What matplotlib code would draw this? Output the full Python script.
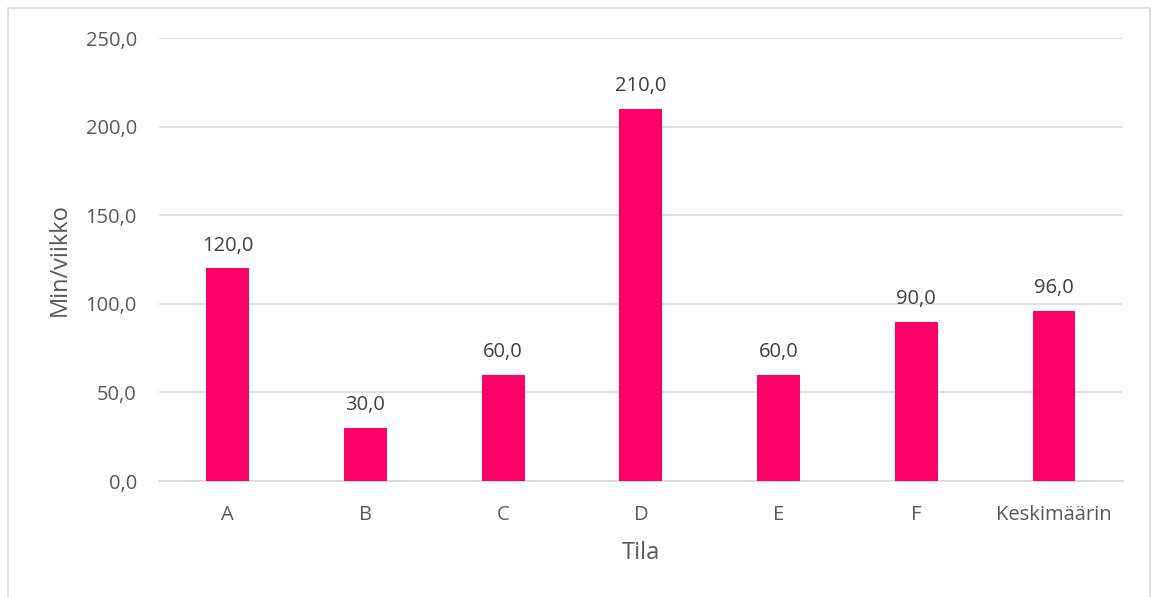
import matplotlib.pyplot as plt
from matplotlib.patches import Rectangle

plt.rcParams['font.family'] = ['Open Sans', 'DejaVu Sans']

categories = ['A', 'B', 'C', 'D', 'E', 'F', 'Keskimäärin']
minutes = [120.0, 30.0, 60.0, 210.0, 60.0, 90.0, 96.0]
yticks = [0, 50, 100, 150, 200, 250]

text_col = '#595959'
grid_col = '#D9D9D9'
bar_col = '#FF0066'


def fi(v):
    # Finnish decimal comma
    return f'{v:.1f}'.replace('.', ',')


fig = plt.figure(figsize=(11.58, 5.97), dpi=100)
ax = fig.add_axes([0.1373, 0.1943, 0.8322, 0.742])

# light chart border
fig.patches.append(Rectangle((8 / 1158, -0.05), 1142 / 1158, 1 - 8 / 597 + 0.05,
                             transform=fig.transFigure, fill=False,
                             edgecolor=grid_col, linewidth=1.2))

x = range(len(categories))
bars = ax.bar(x, minutes, width=0.31, color=bar_col, zorder=3)

for b, v in zip(bars, minutes):
    ax.annotate(fi(v), (b.get_x() + b.get_width() / 2, v), xytext=(0, 9),
                textcoords='offset points', ha='center', va='bottom',
                fontsize=14.5, color='#404040')

ax.set_xlim(-0.5, len(categories) - 0.5)
ax.set_ylim(0, 250)
ax.set_yticks(yticks)
ax.set_yticklabels([fi(t) for t in yticks])
ax.set_xticks(list(x))
ax.set_xticklabels(categories)
ax.yaxis.grid(True, color=grid_col, linewidth=1.2, zorder=0)
ax.tick_params(axis='both', length=0, labelsize=14.5, labelcolor=text_col)
ax.tick_params(axis='y', pad=16)
ax.tick_params(axis='x', pad=17)
for s in ['top', 'right', 'left']:
    ax.spines[s].set_visible(False)
ax.spines['bottom'].set_color(grid_col)
ax.spines['bottom'].set_linewidth(1.2)

ax.set_ylabel('Min/viikko', fontsize=17, color=text_col, labelpad=10)
ax.set_xlabel('Tila', fontsize=17, color=text_col, labelpad=12)

fig.savefig('out.png', dpi=100)
